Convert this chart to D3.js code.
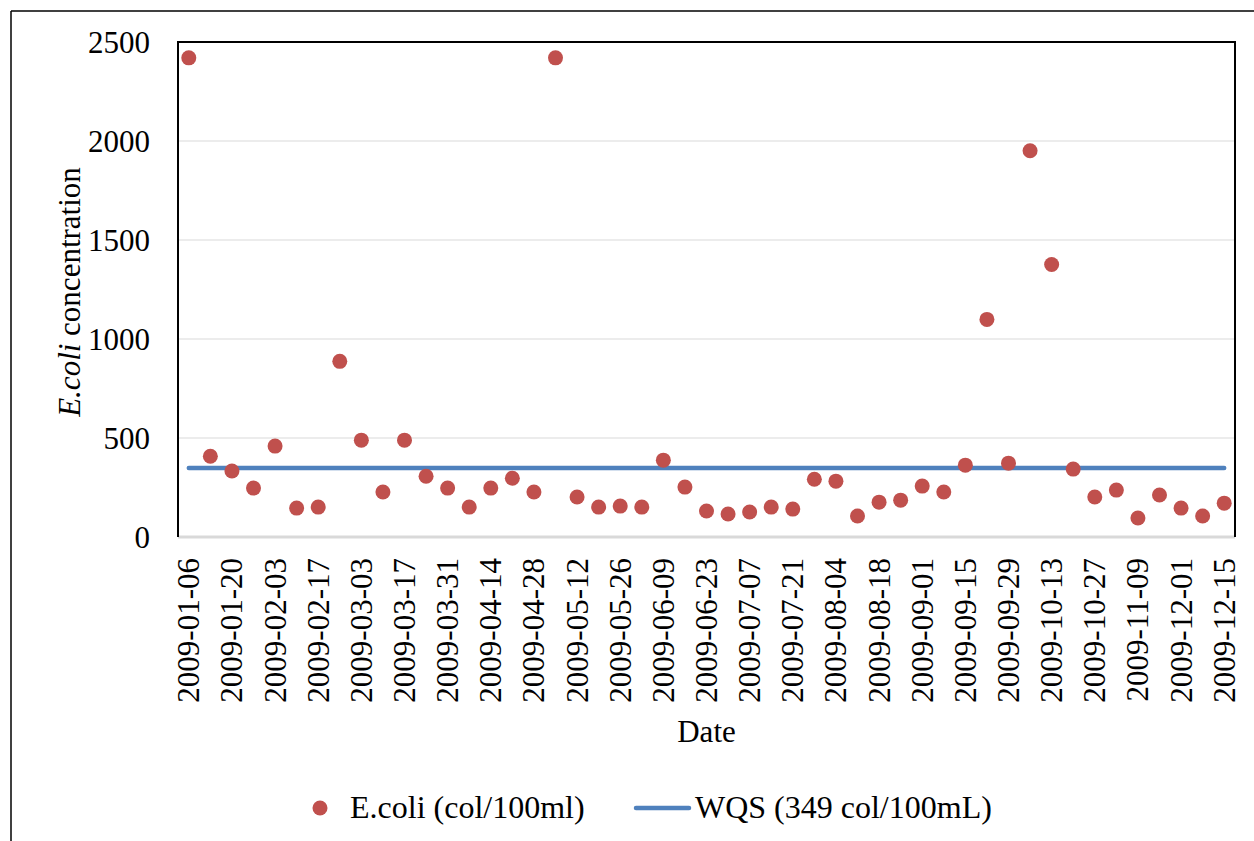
<!DOCTYPE html>
<html><head><meta charset="utf-8">
<script src="https://cdn.jsdelivr.net/npm/d3@7"></script>
<style>
html,body{margin:0;padding:0;background:#fff;}
svg text{font-family:"Liberation Serif","Times New Roman",serif !important;fill:#000;}
</style></head>
<body>
<svg id="chart" width="1254" height="841"></svg>
<script>
const dates = ["2009-01-06","2009-01-13","2009-01-20","2009-01-27","2009-02-03","2009-02-10","2009-02-17","2009-02-24",
"2009-03-03","2009-03-10","2009-03-17","2009-03-24","2009-03-31","2009-04-07","2009-04-14","2009-04-21","2009-04-28",
"2009-05-05","2009-05-12","2009-05-19","2009-05-26","2009-06-02","2009-06-09","2009-06-16","2009-06-23","2009-06-30",
"2009-07-07","2009-07-14","2009-07-21","2009-07-28","2009-08-04","2009-08-11","2009-08-18","2009-08-25",
"2009-09-01","2009-09-08","2009-09-15","2009-09-22","2009-09-29","2009-10-06","2009-10-13","2009-10-20","2009-10-27",
"2009-11-02","2009-11-09","2009-11-17","2009-12-01","2009-12-08","2009-12-15"];
const ecoli = [2420,408,333,247,459,146,151,887,489,227,
489,307,247,151,247,297,227,2420,202,151,
156,151,388,252,131,116,126,151,141,292,
282,106,176,186,257,227,363,1099,373,1951,
1376,343,202,237,96,212,146,106,171];
const wqs = 349;
const yTicks = [0,500,1000,1500,2000,2500];
const seriesNames = ["E.coli (col/100ml)","WQS (349 col/100mL)"];

const svg = d3.select("#chart");
const L=178, R=1235, T=42, B=537;
const x = d3.scaleBand().domain(dates).range([L,R]);
const y = d3.scaleLinear().domain([0,2500]).range([B,T]);
const cx = d => x(d) + x.bandwidth()/2;

// outer frame
svg.append("line").attr("x1",11).attr("x2",1254).attr("y1",11).attr("y2",11).attr("stroke","#000").attr("stroke-width",1.5);
svg.append("line").attr("x1",11).attr("x2",11).attr("y1",11).attr("y2",841).attr("stroke","#000").attr("stroke-width",1.5);

// gridlines
svg.append("g").selectAll("line").data(yTicks.filter(t=>t>0 && t<2500)).join("line")
  .attr("x1",L).attr("x2",R).attr("y1",d=>y(d)).attr("y2",d=>y(d))
  .attr("stroke","#d9d9d9").attr("stroke-width",1.2);

// y axis
const ya = svg.append("g").attr("transform",`translate(${L},0)`)
  .call(d3.axisLeft(y).tickValues(yTicks).tickFormat(d3.format("d")).tickSize(0).tickPadding(28));
ya.attr("font-family",null).attr("font-size",null);
ya.select(".domain").remove();
ya.selectAll("text").style("font-size","31px").attr("dy","0.33em");

// x axis
const xa = svg.append("g").attr("transform",`translate(0,${B})`)
  .call(d3.axisBottom(x).tickSize(0).tickFormat((d,i)=> i%2===0 ? d : ""));
xa.attr("font-family",null).attr("font-size",null);
xa.select(".domain").remove();
xa.selectAll("text").style("font-size","31px")
  .attr("transform","rotate(-90)").attr("text-anchor","end").attr("x",-21).attr("y",0).attr("dy","0.34em");

// frame of plot
svg.append("line").attr("x1",L).attr("x2",R).attr("y1",B).attr("y2",B).attr("stroke","#d9d9d9").attr("stroke-width",3);
svg.append("line").attr("x1",L).attr("x2",R).attr("y1",T).attr("y2",T).attr("stroke","#000").attr("stroke-width",2);
svg.append("line").attr("x1",L).attr("x2",L).attr("y1",T-1).attr("y2",B).attr("stroke","#000").attr("stroke-width",2);
svg.append("line").attr("x1",R).attr("x2",R).attr("y1",T-1).attr("y2",B).attr("stroke","#000").attr("stroke-width",2);

// WQS line
svg.append("path").datum(dates)
  .attr("d", d3.line().x(d=>cx(d)).y(()=>y(wqs)))
  .attr("fill","none").attr("stroke","#4f81bd").attr("stroke-width",4.5).attr("stroke-linecap","round");

// points
svg.append("g").selectAll("circle").data(dates).join("circle")
  .attr("cx",d=>cx(d)).attr("cy",(d,i)=>y(ecoli[i])).attr("r",7.5).attr("fill","#c0504d");

// axis titles
const yt = svg.append("text").attr("transform","translate(80,292) rotate(-90)").attr("text-anchor","middle").style("font-size","31px");
yt.append("tspan").style("font-style","italic").text("E.coli");
yt.append("tspan").text(" concentration");
svg.append("text").attr("x",(L+R)/2).attr("y",742).attr("text-anchor","middle").style("font-size","31px").text("Date");

// legend
svg.append("circle").attr("cx",320).attr("cy",808).attr("r",7.5).attr("fill","#c0504d");
svg.append("text").attr("x",350).attr("y",818).style("font-size","32px").text(seriesNames[0]);
svg.append("line").attr("x1",636).attr("x2",689).attr("y1",808).attr("y2",808).attr("stroke","#4f81bd").attr("stroke-width",4.5).attr("stroke-linecap","round");
svg.append("text").attr("x",695).attr("y",818).style("font-size","32px").text(seriesNames[1]);
</script>
</body></html>
